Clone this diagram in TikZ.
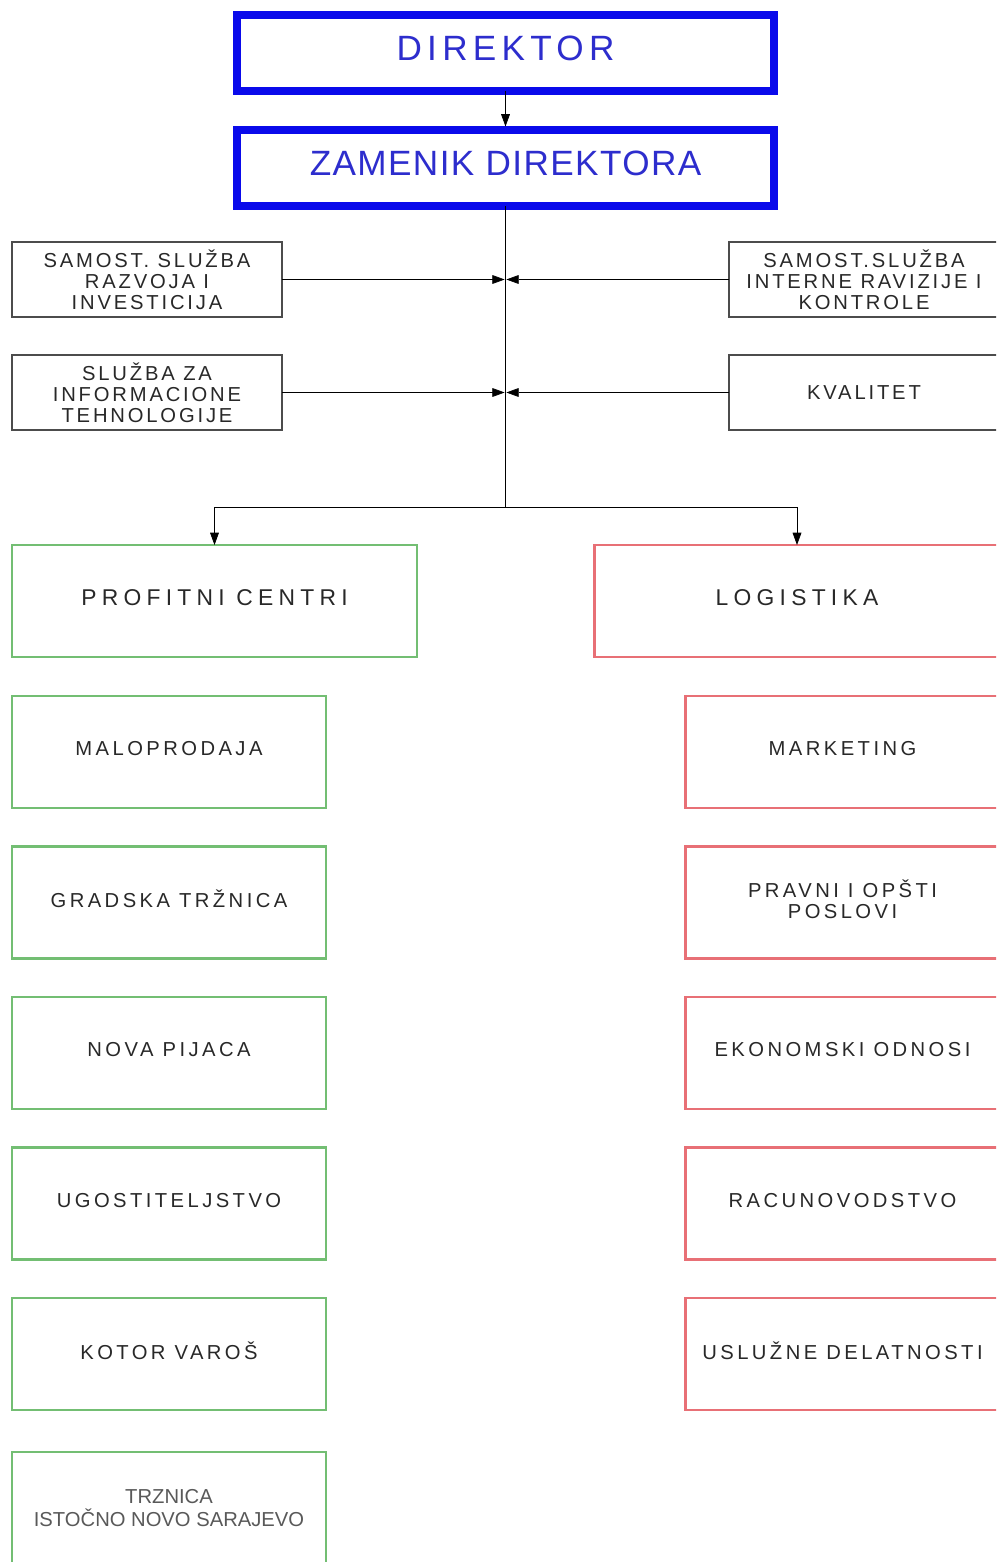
\documentclass[tikz,border=0pt]{standalone}
\usepackage{fontspec}
\setmainfont{Liberation Sans}
\newfontfamily\dirfont[LetterSpace=15]{Liberation Sans}
\newfontfamily\zamfont[LetterSpace=4]{Liberation Sans}
\newfontfamily\midfont[LetterSpace=23]{Liberation Sans}
\newfontfamily\grayfont[LetterSpace=14]{Liberation Sans}
\newfontfamily\boxfont[LetterSpace=17]{Liberation Sans}
\usetikzlibrary{positioning}
\usetikzlibrary{arrows.meta}
\definecolor{dirblue}{RGB}{10,10,235}
\definecolor{dirtext}{RGB}{45,45,205}
\definecolor{pcgreen}{RGB}{115,190,115}
\definecolor{lgred}{RGB}{232,112,118}
\definecolor{boxtext}{RGB}{40,40,40}
\tikzset{
  box/.style={draw, outer sep=0pt, inner sep=2pt, align=center, text=boxtext},
  bluebox/.style={box, draw=dirblue, line width=4pt, minimum width=10.74cm, minimum height=1.52cm, text=dirtext, text depth=5pt},
  graybox/.style={box, draw=black!70, line width=1.1pt, minimum width=5.4cm, minimum height=1.5cm, font=\grayfont\fontsize{11.5}{12}\selectfont},
  bigbox/.style={box, line width=1.4pt, minimum width=8.1cm, minimum height=2.24cm, text depth=4pt, font=\midfont\fontsize{13}{15}\selectfont},
  colbox/.style={box, line width=1.4pt, minimum width=6.28cm, minimum height=2.24cm, text depth=4pt, font=\boxfont\fontsize{11.5}{12}\selectfont},
  arr/.style={-{Triangle[length=7pt,width=5pt]}}
}
\begin{document}
\begin{tikzpicture}
    \useasboundingbox (0,0) rectangle (19.92,-31.24);
    \clip (0,0) rectangle (19.92,-31.24);
    \node[bluebox, font=\dirfont\fontsize{20}{22}\selectfont] (dir) at (10.11,-1.06) {DIREKTOR};
    \node[bluebox, below = 0.78cm of dir, font=\zamfont\fontsize{20}{22}\selectfont] (zam) {ZAMENIK DIREKTORA};
    \node[graybox] (l1) at (2.94,-5.59) {SAMOST. SLUŽBA\\RAZVOJA I\\INVESTICIJA};
    \node[graybox, below = 0.76cm of l1] (l2) {SLUŽBA ZA\\INFORMACIONE\\TEHNOLOGIJE};
    \node[graybox] (r1) at (17.28,-5.59) {SAMOST.SLUŽBA\\INTERNE RAVIZIJE I\\KONTROLE};
    \node[graybox, below = 0.76cm of r1] (r2) {KVALITET};
    \node[bigbox, draw=pcgreen] (pc) at (4.29,-12.02) {PROFITNI CENTRI};
    \node[bigbox, draw=lgred] (lg) at (15.94,-12.02) {LOGISTIKA};
    \node[colbox, draw=pcgreen, below = 0.78cm of pc.south west, anchor=north west] (p1) {MALOPRODAJA};
    \node[colbox, draw=pcgreen, below = 0.77cm of p1] (p2) {GRADSKA TRŽNICA};
    \node[colbox, draw=pcgreen, below = 0.77cm of p2] (p3) {NOVA PIJACA};
    \node[colbox, draw=pcgreen, below = 0.77cm of p3] (p4) {UGOSTITELJSTVO};
    \node[colbox, draw=pcgreen, below = 0.77cm of p4] (p5) {KOTOR VAROŠ};
    \node[colbox, draw=pcgreen, below = 0.84cm of p5, text depth=0pt, font=\fontsize{11.5}{13}\selectfont, text=black!65] (p6) {TRZNICA\\ISTOČNO NOVO SARAJEVO};
    \node[colbox, draw=lgred, below = 0.78cm of lg.south east, anchor=north east] (g1) {MARKETING};
    \node[colbox, draw=lgred, below = 0.77cm of g1] (g2) {PRAVNI I OPŠTI\\POSLOVI};
    \node[colbox, draw=lgred, below = 0.77cm of g2] (g3) {EKONOMSKI ODNOSI};
    \node[colbox, draw=lgred, below = 0.77cm of g3] (g4) {RACUNOVODSTVO};
    \node[colbox, draw=lgred, below = 0.77cm of g4] (g5) {USLUŽNE DELATNOSTI};
    \coordinate[below = 6.02cm of zam.south] (split);
    \draw[arr, shorten >=2pt] (dir.south) -- (zam.north);
    \draw (zam.south) -- (split);
    \draw[arr, shorten >=0.5pt] (l1.east) -- (l1.east -| split);
    \draw[arr, shorten >=0.5pt] (l2.east) -- (l2.east -| split);
    \draw[arr, shorten >=0.5pt] (r1.west) -- (r1.west -| split);
    \draw[arr, shorten >=0.5pt] (r2.west) -- (r2.west -| split);
    \draw[arr] (split) -| (pc.north);
    \draw[arr] (split) -| (lg.north);
\end{tikzpicture}
\end{document}
